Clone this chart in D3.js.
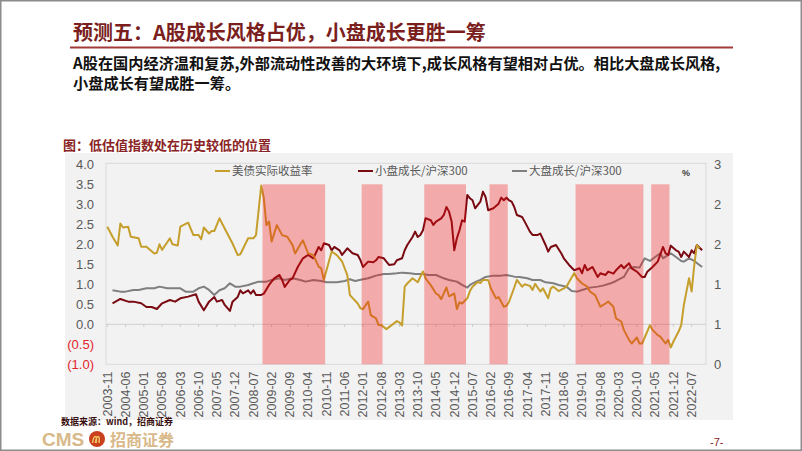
<!DOCTYPE html>
<html><head><meta charset="utf-8">
<script src="https://cdn.jsdelivr.net/npm/d3@7"></script>
<style>body{margin:0;background:#fff} svg{display:block}</style>
</head><body><svg id="c" width="802" height="451"></svg>
<script>
const titleText = "预测五：A股成长风格占优，小盘成长更胜一筹";
const bodyLines = ["A股在国内经济温和复苏,外部流动性改善的大环境下,成长风格有望相对占优。相比大盘成长风格,", "小盘成长有望成胜一筹。"];
const chartCaption = "图：低估值指数处在历史较低的位置";
const seriesNames = ["美债实际收益率", "小盘成长/沪深300", "大盘成长/沪深300"];
const unitLabel = "%";
const sourceText = "数据来源：wind，招商证券";
const pageText = "-7-";

const firstMonth = "2003-11", lastMonth = "2022-12";
const tickLabels = ["2003-11","2004-06","2005-01","2005-08","2006-03","2006-10","2007-05","2007-12","2008-07","2009-02","2009-09","2010-04","2010-11","2011-06","2012-01","2012-08","2013-03","2013-10","2014-05","2014-12","2015-07","2016-02","2016-09","2017-04","2017-11","2018-06","2019-01","2019-08","2020-03","2020-10","2021-05","2021-12","2022-07"];
const leftTicks = [4, 3.5, 3, 2.5, 2, 1.5, 1, 0.5, 0, -0.5, -1];
const rightTicks = [0, 0.6, 1.2, 1.8, 2.4, 3];
const shadeStart = ["2008-11","2012-01","2014-01","2016-02","2018-11","2021-04"];
const shadeEnd   = ["2010-10","2012-08","2015-04","2016-08","2020-12","2021-10"];
const shadeTop = 3.5;

const yieldMonths = ["2003-11","2004-01","2004-03","2004-04","2004-05","2004-07","2004-08","2004-11","2004-12","2005-02","2005-05","2005-06","2005-07","2005-08","2005-11","2005-12","2006-02","2006-03","2006-06","2006-08","2006-10","2006-11","2006-12","2007-02","2007-03","2007-04","2007-06","2007-07","2007-09","2007-11","2008-01","2008-02","2008-04","2008-05","2008-07","2008-08","2008-10","2008-11","2008-12","2009-01","2009-02","2009-04","2009-06","2009-08","2009-10","2009-11","2010-01","2010-02","2010-04","2010-06","2010-08","2010-09","2010-10","2011-01","2011-03","2011-05","2011-07","2011-08","2011-11","2011-12","2012-01","2012-03","2012-04","2012-06","2012-07","2012-08","2012-10","2012-12","2013-02","2013-03","2013-04","2013-05","2013-06","2013-08","2013-09","2013-10","2013-12","2014-01","2014-03","2014-05","2014-06","2014-07","2014-09","2014-10","2014-12","2015-01","2015-02","2015-03","2015-05","2015-06","2015-07","2015-09","2015-10","2015-11","2016-01","2016-02","2016-04","2016-05","2016-07","2016-08","2016-09","2016-11","2016-12","2017-02","2017-03","2017-05","2017-06","2017-07","2017-09","2017-10","2017-12","2018-01","2018-02","2018-04","2018-06","2018-07","2018-08","2018-10","2018-11","2019-01","2019-03","2019-04","2019-06","2019-08","2019-10","2019-11","2020-01","2020-02","2020-04","2020-05","2020-07","2020-08","2020-10","2020-11","2020-12","2021-02","2021-03","2021-04","2021-06","2021-07","2021-09","2021-10","2021-11","2021-12","2022-02","2022-03","2022-04","2022-06","2022-07","2022-08","2022-09","2022-10"];
const yieldValues = [2.44,2.19,1.97,2.52,2.42,2.44,2.19,2.15,1.94,1.94,1.77,1.79,2.00,1.86,2.15,2.00,1.97,2.44,2.54,2.23,2.23,2.13,2.42,2.27,2.33,2.33,2.65,2.52,2.27,2.02,1.73,1.75,2.02,2.15,2.15,2.23,3.47,3.15,2.48,2.57,2.07,2.48,2.23,2.19,1.98,1.77,2.00,2.10,1.77,1.73,1.44,1.40,1.11,1.82,1.73,1.57,1.23,0.73,0.52,0.40,0.38,0.57,0.23,0.15,-0.02,-0.02,-0.12,-0.02,0.08,0.05,-0.03,0.94,1.02,1.15,1.10,1.05,1.32,1.15,0.98,0.77,0.73,0.63,0.92,0.70,0.77,0.38,0.55,0.52,0.65,0.83,0.94,1.06,1.03,1.11,1.11,0.90,0.65,0.68,0.44,0.46,0.56,0.92,1.11,0.94,1.00,0.96,0.86,1.01,0.82,0.90,0.65,0.90,0.94,0.83,0.90,0.94,1.06,1.28,1.15,1.02,0.94,0.82,0.73,0.44,0.52,0.57,0.44,0.15,0.07,-0.14,-0.39,-0.48,-0.33,-0.48,-0.48,-0.18,-0.02,-0.14,-0.27,-0.31,-0.48,-0.39,-0.58,-0.43,-0.18,-0.02,0.48,1.15,0.82,1.48,1.98,1.90];

const smallMonths = ["2004-01","2004-04","2004-07","2004-09","2004-12","2005-02","2005-04","2005-06","2005-08","2005-11","2006-01","2006-03","2006-06","2006-09","2006-10","2006-12","2007-02","2007-04","2007-05","2007-07","2007-08","2007-10","2007-11","2008-01","2008-02","2008-03","2008-05","2008-06","2008-07","2008-08","2008-10","2008-11","2009-01","2009-03","2009-05","2009-06","2009-07","2009-09","2009-10","2009-12","2010-02","2010-04","2010-06","2010-08","2010-09","2010-10","2010-12","2011-01","2011-02","2011-04","2011-05","2011-07","2011-09","2011-11","2011-12","2012-01","2012-03","2012-05","2012-06","2012-07","2012-09","2012-11","2013-01","2013-02","2013-04","2013-05","2013-06","2013-08","2013-09","2013-10","2013-11","2013-12","2014-01","2014-03","2014-04","2014-05","2014-07","2014-08","2014-09","2014-10","2014-11","2014-12","2015-01","2015-02","2015-03","2015-04","2015-05","2015-06","2015-07","2015-08","2015-10","2015-11","2015-12","2016-01","2016-03","2016-05","2016-06","2016-07","2016-08","2016-09","2016-10","2016-11","2016-12","2017-02","2017-03","2017-05","2017-06","2017-08","2017-09","2017-11","2017-12","2018-01","2018-03","2018-05","2018-06","2018-08","2018-10","2018-12","2019-01","2019-02","2019-03","2019-05","2019-07","2019-08","2019-10","2019-11","2020-01","2020-02","2020-04","2020-05","2020-07","2020-08","2020-10","2020-12","2021-01","2021-02","2021-04","2021-06","2021-08","2021-09","2021-10","2021-11","2022-01","2022-02","2022-03","2022-04","2022-06","2022-07","2022-08","2022-09","2022-11"];
const smallValues = [0.915,0.98,0.94,0.94,0.915,0.86,0.86,0.83,0.915,0.965,0.94,0.99,1.015,1.05,0.94,0.81,0.94,1.01,0.94,0.965,0.89,0.80,0.94,1.01,1.11,1.065,1.11,1.06,1.11,1.04,1.04,1.06,1.19,1.29,1.34,1.265,1.16,1.265,1.29,1.46,1.59,1.64,1.59,1.76,1.71,1.815,1.79,1.71,1.76,1.71,1.64,1.74,1.665,1.64,1.565,1.46,1.54,1.53,1.56,1.61,1.59,1.49,1.50,1.56,1.59,1.71,1.79,1.91,1.99,1.91,1.94,2.01,2.19,2.16,2.09,2.14,2.19,2.24,2.36,2.29,2.14,1.71,1.89,2.01,2.16,2.14,2.54,2.49,2.46,2.34,2.44,2.59,2.51,2.31,2.34,2.41,2.50,2.46,2.50,2.46,2.44,2.36,2.24,2.21,2.14,1.99,1.94,1.94,1.96,1.79,1.69,1.76,1.79,1.665,1.59,1.49,1.41,1.44,1.365,1.49,1.41,1.46,1.31,1.365,1.34,1.39,1.36,1.41,1.49,1.44,1.515,1.44,1.39,1.31,1.31,1.39,1.46,1.54,1.76,1.665,1.64,1.78,1.71,1.69,1.61,1.69,1.61,1.71,1.665,1.79,1.71];

const largeMonths = ["2004-01","2004-04","2004-06","2004-09","2004-11","2005-02","2005-05","2005-07","2005-10","2005-12","2006-03","2006-05","2006-08","2006-10","2006-12","2007-02","2007-04","2007-06","2007-08","2007-10","2007-12","2008-02","2008-05","2008-07","2008-09","2008-12","2009-02","2009-05","2009-07","2009-10","2010-01","2010-03","2010-06","2010-09","2010-11","2011-03","2011-06","2011-08","2011-10","2012-01","2012-03","2012-06","2012-09","2012-11","2013-02","2013-04","2013-07","2013-09","2013-12","2014-02","2014-05","2014-08","2014-10","2015-01","2015-03","2015-05","2015-06","2015-09","2015-10","2015-12","2016-03","2016-06","2016-08","2016-11","2017-01","2017-04","2017-06","2017-09","2017-11","2018-02","2018-04","2018-07","2018-09","2018-11","2019-01","2019-04","2019-07","2019-09","2019-12","2020-02","2020-05","2020-07","2020-09","2020-11","2021-01","2021-03","2021-05","2021-07","2021-08","2021-11","2022-01","2022-03","2022-04","2022-06","2022-08","2022-10","2022-11"];
const largeValues = [1.11,1.09,1.09,1.115,1.115,1.14,1.14,1.165,1.14,1.14,1.14,1.09,1.09,1.14,1.165,1.115,1.04,1.11,1.14,1.215,1.165,1.165,1.19,1.215,1.24,1.24,1.265,1.29,1.265,1.29,1.265,1.24,1.265,1.25,1.23,1.23,1.25,1.275,1.25,1.275,1.29,1.33,1.355,1.355,1.365,1.375,1.365,1.355,1.355,1.34,1.34,1.29,1.265,1.24,1.19,1.15,1.19,1.25,1.265,1.31,1.33,1.33,1.34,1.315,1.31,1.29,1.265,1.265,1.23,1.215,1.19,1.165,1.10,1.09,1.115,1.15,1.165,1.18,1.215,1.25,1.31,1.44,1.46,1.45,1.59,1.55,1.61,1.665,1.59,1.665,1.61,1.55,1.54,1.59,1.55,1.49,1.46];

// category list (monthly)
const categories = [];
{
  let [y, m] = firstMonth.split("-").map(Number);
  const [ly, lm] = lastMonth.split("-").map(Number);
  while (y < ly || (y === ly && m <= lm)) {
    categories.push(y + "-" + String(m).padStart(2, "0"));
    m++; if (m > 12) { m = 1; y++; }
  }
}

const CJK = "'Noto Sans CJK SC','Noto Sans',sans-serif";
const LAT = "'Liberation Sans',Arial,sans-serif";
const svg = d3.select("#c");

// frame
svg.append("rect").attr("x", 0.75).attr("y", 0.75).attr("width", 800.5).attr("height", 449.5)
  .attr("fill", "#fff").attr("stroke", "#8c8c8c").attr("stroke-width", 1.5);

// title
svg.append("text").attr("x", 73).attr("y", 40).text(titleText)
  .attr("font-family", CJK).attr("font-weight", "bold").attr("font-size", 20).attr("fill", "#7a1e1e");
svg.append("line").attr("x1", 70).attr("x2", 733).attr("y1", 47.5).attr("y2", 47.5)
  .attr("stroke", "#a33a3a").attr("stroke-width", 2);
bodyLines.forEach((t, i) => {
  svg.append("text").attr("x", 73).attr("y", 69 + i * 20).text(t)
    .attr("font-family", CJK).attr("font-weight", "bold").attr("font-size", 15.2).attr("fill", "#111");
});

// panel
svg.append("rect").attr("x", 65).attr("y", 153).attr("width", 668).attr("height", 267).attr("fill", "#f2f2f2");
svg.append("text").attr("x", 63).attr("y", 150).text(chartCaption)
  .attr("font-family", CJK).attr("font-weight", "bold").attr("font-size", 13).attr("fill", "#8a2424");

const L = 106, R = 706, T = 164.3, B = 364.3;
const x = d3.scalePoint().domain(categories).range([L, R]).padding(0.5);
const step = x.step();
const yL = d3.scaleLinear().domain([-1, 4]).range([B, T]);
const yR = d3.scaleLinear().domain([0, 3]).range([B, T]);

// plot frame
svg.append("rect").attr("x", L).attr("y", T - 1).attr("width", R - L).attr("height", B - T + 1)
  .attr("fill", "none").attr("stroke", "#d9d9d9").attr("stroke-width", 1);

// zero line with ticks
const zeroY = yL(0);
svg.append("line").attr("x1", L).attr("x2", R).attr("y1", zeroY).attr("y2", zeroY)
  .attr("stroke", "#d0d0d0").attr("stroke-width", 1);
svg.append("g").selectAll("line").data(tickLabels).join("line")
  .attr("x1", d => x(d)).attr("x2", d => x(d)).attr("y1", zeroY).attr("y2", zeroY + 2.5)
  .attr("stroke", "#c8c8c8").attr("stroke-width", 1);

// left axis
const leftAxis = d3.axisLeft(yL).tickValues(leftTicks).tickSize(0).tickPadding(10)
  .tickFormat(d => d < 0 ? "(" + d3.format(".1f")(-d) + ")" : d3.format(".1f")(d));
const gl = svg.append("g").attr("transform", `translate(${L - 2},0)`).call(leftAxis);
gl.select(".domain").remove();
gl.selectAll("text").attr("font-family", LAT).attr("font-size", 13)
  .attr("fill", d => d < 0 ? "#e3232c" : "#595959");

// right axis
const rightAxis = d3.axisRight(yR).tickValues(rightTicks).tickSize(0).tickPadding(8)
  .tickFormat(d3.format(".0f"));
const gr = svg.append("g").attr("transform", `translate(${R + 0},0)`).call(rightAxis);
gr.select(".domain").remove();
gr.selectAll("text").attr("font-family", LAT).attr("font-size", 13).attr("fill", "#595959");

// x labels
svg.append("g").selectAll("text").data(tickLabels).join("text")
  .attr("transform", d => `translate(${x(d) + 4.3},371.5) rotate(-90)`)
  .attr("text-anchor", "end").attr("font-family", LAT).attr("font-size", 12.5).attr("fill", "#595959")
  .text(d => d);

// lines
function series(months, values, scale) {
  return months.map((m, i) => [x(m), scale(values[i])]);
}
const lineGen = d3.line();
const seriesDefs = [
  { pts: series(largeMonths, largeValues, yR), color: "#7f7f7f" },
  { pts: series(smallMonths, smallValues, yR), color: "#7a0a12" },
  { pts: series(yieldMonths, yieldValues, yL), color: "#c59e2c" }
];
seriesDefs.forEach(s => {
  svg.append("path").attr("d", lineGen(s.pts)).attr("fill", "none")
    .attr("stroke", s.color).attr("stroke-width", 2).attr("stroke-linejoin", "round");
});

// shaded periods (translucent overlay)
svg.append("g").selectAll("rect").data(shadeStart).join("rect")
  .attr("x", d => x(d) - step / 2)
  .attr("width", (d, i) => x(shadeEnd[i]) + step / 2 - (x(d) - step / 2))
  .attr("y", yL(shadeTop)).attr("height", yL(-1) - yL(shadeTop))
  .attr("fill", "rgb(246,20,20)").attr("fill-opacity", 0.32);

// legend
const legendColors = ["#c59e2c", "#7a0a12", "#7f7f7f"];
const legendX = [215, 358, 512];
seriesNames.forEach((n, i) => {
  svg.append("line").attr("x1", legendX[i]).attr("x2", legendX[i] + 15).attr("y1", 171).attr("y2", 171)
    .attr("stroke", legendColors[i]).attr("stroke-width", 2);
  svg.append("text").attr("x", legendX[i] + 17).attr("y", 175).text(n)
    .attr("font-family", CJK).attr("font-size", 11.5).attr("fill", "#595959");
});
svg.append("text").attr("x", 682).attr("y", 176).text(unitLabel)
  .attr("font-family", LAT).attr("font-weight", "bold").attr("font-size", 9).attr("fill", "#404040");

// footer
svg.append("text").attr("x", 61).attr("y", 425).text(sourceText)
  .attr("font-family", CJK).attr("font-weight", "bold").attr("font-size", 9).attr("fill", "#3a1010");
svg.append("text").attr("x", 42).attr("y", 446).text("CMS")
  .attr("font-family", LAT).attr("font-weight", "bold").attr("font-size", 19).attr("fill", "#d8b98a");
svg.append("circle").attr("cx", 97).attr("cy", 439).attr("r", 8).attr("fill", "#c8401e");
svg.append("path").attr("d", "M92.5,443 q1,-6.5 2.8,-6.5 q1.8,0 0.9,6.5 M95.3,443 q1,-6.5 2.8,-6.5 q1.8,0 0.9,6.5")
  .attr("fill", "none").attr("stroke", "#f2c060").attr("stroke-width", 1.5);
svg.append("text").attr("x", 110).attr("y", 446).text("招商证券")
  .attr("font-family", CJK).attr("font-weight", "bold").attr("font-size", 16).attr("fill", "#d8b98a");
svg.append("text").attr("x", 710).attr("y", 446).text(pageText)
  .attr("font-family", LAT).attr("font-size", 11).attr("fill", "#8a2424");
</script></body></html>
